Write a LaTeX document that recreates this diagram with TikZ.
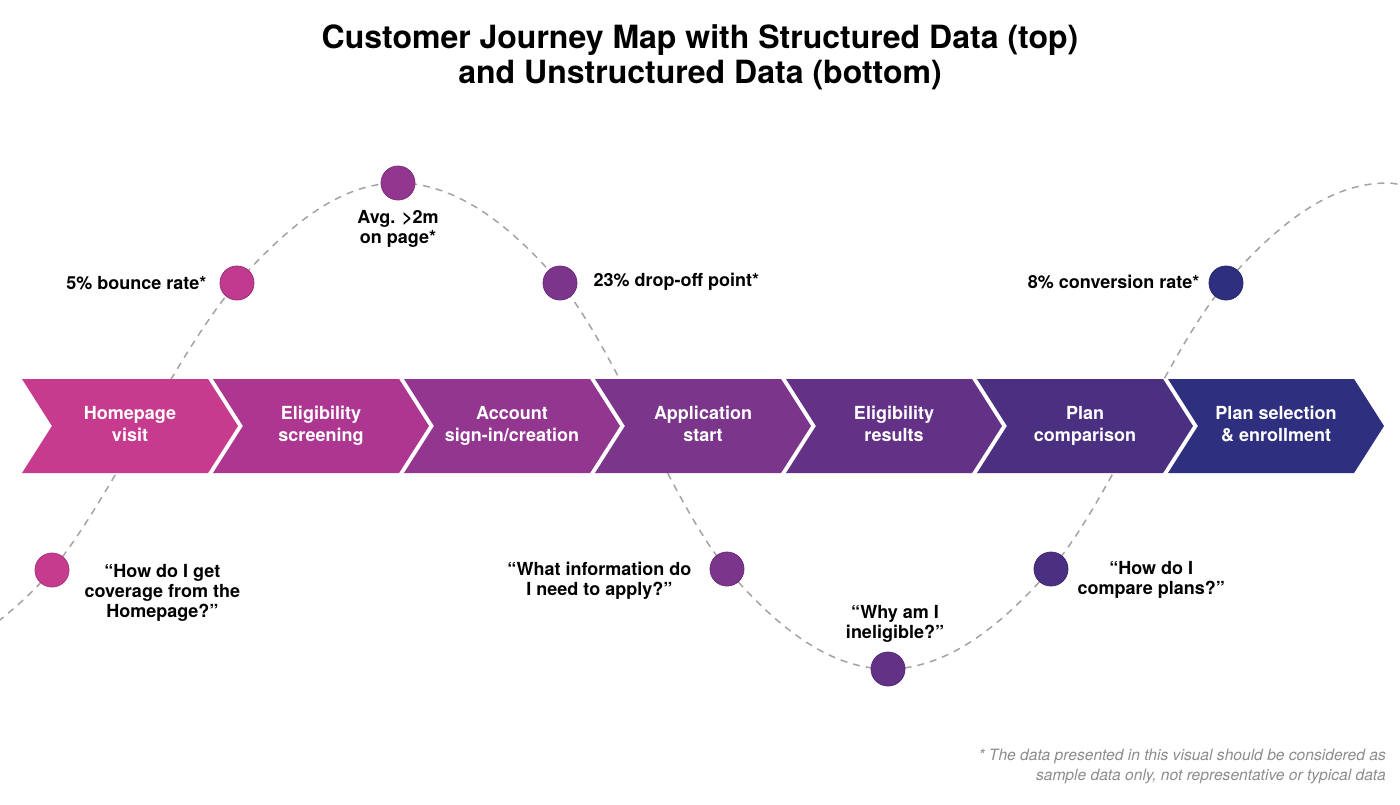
\documentclass[tikz,border=0pt]{standalone}
\usepackage{fontspec}
\setmainfont{TeX Gyre Heros}
\usepackage{tikz}
\usetikzlibrary{shapes.symbols}
\usetikzlibrary{positioning}
\definecolor{stA}{HTML}{C73B8F}
\definecolor{stB}{HTML}{AD3790}
\definecolor{stC}{HTML}{93368F}
\definecolor{stD}{HTML}{7B358B}
\definecolor{stE}{HTML}{633186}
\definecolor{stF}{HTML}{4B2F81}
\definecolor{stG}{HTML}{2E2F7F}
\definecolor{wave}{HTML}{A3A3A3}
\definecolor{fnote}{HTML}{8C8C8C}
\tikzset{
    stage/.style={
           signal, signal to=east, signal from=west,
           signal pointer angle=115,
           minimum width=216pt, minimum height=94pt,
           inner sep=0pt, outer sep=0pt,
           text=white, align=center,
           font=\bfseries\fontsize{18}{22}\selectfont,
           execute at begin node={\rule{0pt}{17.3pt}},
           execute at end node={\vphantom{Ag}},
           },
}
\tikzset{
    dot/.style={
           circle,
           minimum size=34pt,
           inner sep=0pt,
           line width=0.8pt,
           },
}
\tikzset{
    note/.style={
           align=center,
           inner sep=0pt,
           font=\bfseries\fontsize{18}{20}\selectfont,
           },
}
\begin{document}
\begin{tikzpicture}[x=1pt,y=-1pt]
\useasboundingbox (0,0) rectangle (1400,804);
\node[align=center,font=\bfseries\fontsize{32}{35}\selectfont](title) at (700,57){Customer Journey Map with Structured Data (top)\\and Unstructured Data (bottom)};
% the points on the dashed wave
\coordinate (wstart) at (-100,685);
\coordinate (w1) at (52,570);
\coordinate (w2) at (237,283);
\coordinate (w3) at (398,183);
\coordinate (w4) at (560,283);
\coordinate (w5) at (727,569);
\coordinate (w6) at (888,669);
\coordinate (w7) at (1051,569);
\coordinate (w8) at (1226,283);
\coordinate (wend) at (1387,183);
\coordinate (wout) at (1548,283);
\draw[wave,line width=1.5pt,dash pattern=on 7pt off 6pt]
  plot[smooth,tension=0.6] coordinates {(wstart) (w1) (w2) (w3) (w4) (w5) (w6) (w7) (w8) (wend) (wout)};
\node[dot,fill=stA,draw=stA!85!black](c1) at (w1){};
\node[dot,fill=stA!80!stB,draw=stB!85!black](c2) at (w2){};
\node[dot,fill=stC,draw=stC!85!black](c3) at (w3){};
\node[dot,fill=stD,draw=stD!85!black](c4) at (w4){};
\node[dot,fill=stD,draw=stD!85!black](c5) at (w5){};
\node[dot,fill=stE,draw=stE!85!black](c6) at (w6){};
\node[dot,fill=stF,draw=stF!85!black](c7) at (w7){};
\node[dot,fill=stG,draw=stG!85!black](c8) at (w8){};
% journey stages
\node[stage,fill=stA](s1) at (130,426){Homepage\\visit};
\node[stage,fill=stB](s2) at (321,426){Eligibility\\screening};
\node[stage,fill=stC](s3) at (512,426){Account\\sign-in/creation};
\node[stage,fill=stD](s4) at (703,426){Application\\start};
\node[stage,fill=stE](s5) at (894,426){Eligibility\\results};
\node[stage,fill=stF](s6) at (1085,426){Plan\\comparison};
\node[stage,fill=stG](s7) at (1276,426){Plan selection\\\& enrollment};
% structured data
\node[note,left = 13pt of c2](n2){5\% bounce rate*};
\node[note,below = 10pt of c3](n3){Avg. >2m\\on page*};
\node[note,right = 16pt of c4,yshift=1pt](n4){23\% drop-off point*};
\node[note,left = 9pt of c8,yshift=1pt](n8){8\% conversion rate*};
% unstructured data
\node[note,right = 15pt of c1,yshift=-23pt](n1){“How do I get\\coverage from the\\Homepage?”};
\node[note,left = 18pt of c5,yshift=-12pt](n5){“What information do\\I need to apply?”};
\node[note,above = 9pt of c6,xshift=7pt](n6){“Why am I\\ineligible?”};
\node[note,right = 9pt of c7,yshift=-11pt](n7){“How do I\\compare plans?”};
\node[anchor=east,align=right,text=fnote,inner sep=0pt,font=\itshape\fontsize{15.6}{20}\selectfont](foot) at (1386,767){* The data presented in this visual should be considered as\\sample data only, not representative or typical data};
\end{tikzpicture}
\end{document}
